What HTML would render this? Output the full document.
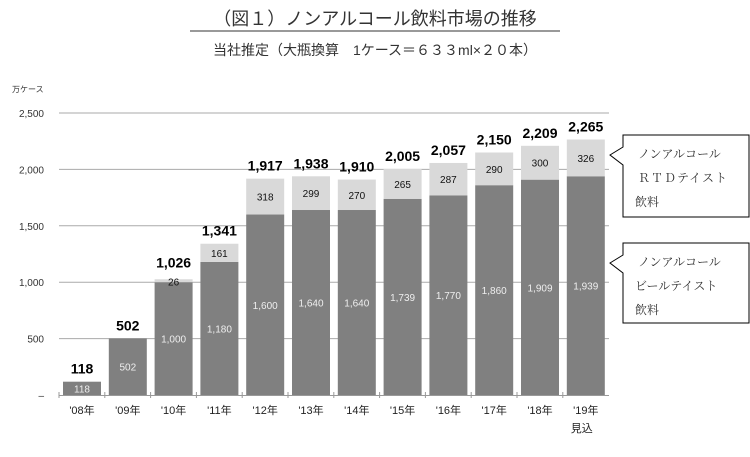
<!DOCTYPE html>
<html><head><meta charset="utf-8"><style>
body{margin:0;background:#fff;width:750px;height:452px;overflow:hidden;font-family:"Liberation Sans","Noto Sans CJK JP",sans-serif}
</style></head><body>
<svg width="750" height="452" id="c" style="font-family:'Liberation Sans','Noto Sans CJK JP',sans-serif">
<text x="375" y="25" text-anchor="middle" font-size="18" fill="#333">（図１）ノンアルコール飲料市場の推移</text>
<line x1="190" y1="31" x2="560" y2="31" stroke="#333" stroke-width="1"/>
<text x="375" y="55" text-anchor="middle" font-size="14" fill="#333">当社推定（大瓶換算　1ケース＝６３３ml×２０本）</text>
<text x="12" y="92" font-size="8" fill="#333">万ケース</text>
<g id="grid"></g><g id="bars"></g>
<g>
<path d="M623,135 L749,135 L749,217 L623,217 L623,165 L610,155 L623,147 Z" fill="#fff" stroke="#000" stroke-width="1"/>
<text x="638" y="158" font-size="12" fill="#333" font-family="'Liberation Serif','Noto Serif CJK SC',serif">ノンアルコール</text>
<text x="638" y="182" font-size="12" fill="#333" letter-spacing="1" font-family="'Liberation Serif','Noto Serif CJK SC',serif">ＲＴＤテイスト</text>
<text x="635" y="206" font-size="12" fill="#333" font-family="'Liberation Serif','Noto Serif CJK SC',serif">飲料</text>
</g>
<g>
<path d="M623,243 L749,243 L749,323 L623,323 L623,273 L610,263 L623,255 Z" fill="#fff" stroke="#000" stroke-width="1"/>
<text x="638" y="266" font-size="12" fill="#333" font-family="'Liberation Serif','Noto Serif CJK SC',serif">ノンアルコール</text>
<text x="635" y="290" font-size="12" fill="#333" font-family="'Liberation Serif','Noto Serif CJK SC',serif">ビールテイスト</text>
<text x="635" y="314" font-size="12" fill="#333" font-family="'Liberation Serif','Noto Serif CJK SC',serif">飲料</text>
</g>
</svg>
<script>
const categories=["'08年","'09年","'10年","'11年","'12年","'13年","'14年","'15年","'16年","'17年","'18年","'19年"];
const beerValues=[118,502,1000,1180,1600,1640,1640,1739,1770,1860,1909,1939];
const rtdValues=[0,0,26,161,318,299,270,265,287,290,300,326];
const totalLabels=["118","502","1,026","1,341","1,917","1,938","1,910","2,005","2,057","2,150","2,209","2,265"];
const yTicks=[0,500,1000,1500,2000,2500];
const yTickLabels=["–","500","1,000","1,500","2,000","2,500"];
const NS="http://www.w3.org/2000/svg";
const y0=395,yTop=113,vMax=2500,x0=59,step=45.8,bw=38;
const y=v=>y0-(v/vMax)*(y0-yTop);
const xL=i=>x0+4+i*step;
function mk(t,a,p,txt){const e=document.createElementNS(NS,t);for(const k in a)e.setAttribute(k,a[k]);if(txt!=null)e.textContent=txt;p.appendChild(e);return e;}
const grid=document.getElementById('grid'),bars=document.getElementById('bars');
yTicks.forEach((v,i)=>{
 if(v>0){const l=mk('line',{x1:x0,x2:609,y1:y(v),y2:y(v),stroke:'#aaa','stroke-width':1},grid);
 
 }
 const t=mk('text',{x:44,y:y(v)+4,'text-anchor':'end','font-size':10,fill:'#333'},grid,yTickLabels[i]);
 
 
});
const ax=mk('line',{x1:x0,x2:609,y1:y0+0.5,y2:y0+0.5,stroke:'#999'},grid);


categories.forEach((c,i)=>{
 const x=xL(i),cx=x+bw/2,b=beerValues[i],r=rtdValues[i];
 const tk=mk('line',{x1:x0+i*step,x2:x0+i*step,y1:y0-3,y2:y0+3,stroke:'#999'},grid);
 
 
 const rb=mk('rect',{x:x,y:y(b),width:bw,height:y0-y(b),fill:'#808080'},bars);
 
 
 const bl=mk('text',{x:cx,y:(y(b)+y0)/2+4,'text-anchor':'middle','font-size':10,fill:'#eee'},bars,b.toLocaleString('en-US'));
 
 
 if(r>0){
  const rr=mk('rect',{x:x,y:y(b+r),width:bw,height:y(b)-y(b+r),fill:'#d9d9d9'},bars);
  
  
  const ry=r<60?y(b+r)+6:(y(b+r)+y(b))/2+4;
  const rl=mk('text',{x:cx,y:ry,'text-anchor':'middle','font-size':10,fill:'#111'},bars,String(r));
  
  
 }
 const tl=mk('text',{x:cx,y:y(b+r)-(r>0&&r<60?12:8),'text-anchor':'middle','font-size':14,'font-weight':'bold',fill:'#000'},bars,totalLabels[i]);
 
 
 const xl=mk('text',{x:cx,y:414,'text-anchor':'middle','font-size':11,fill:'#222'},bars,c);
 
 
});
const m=mk('text',{x:xL(11)+bw/2-4,y:432,'text-anchor':'middle','font-size':11,fill:'#222'},bars,'見込');


</script>
</body></html>
